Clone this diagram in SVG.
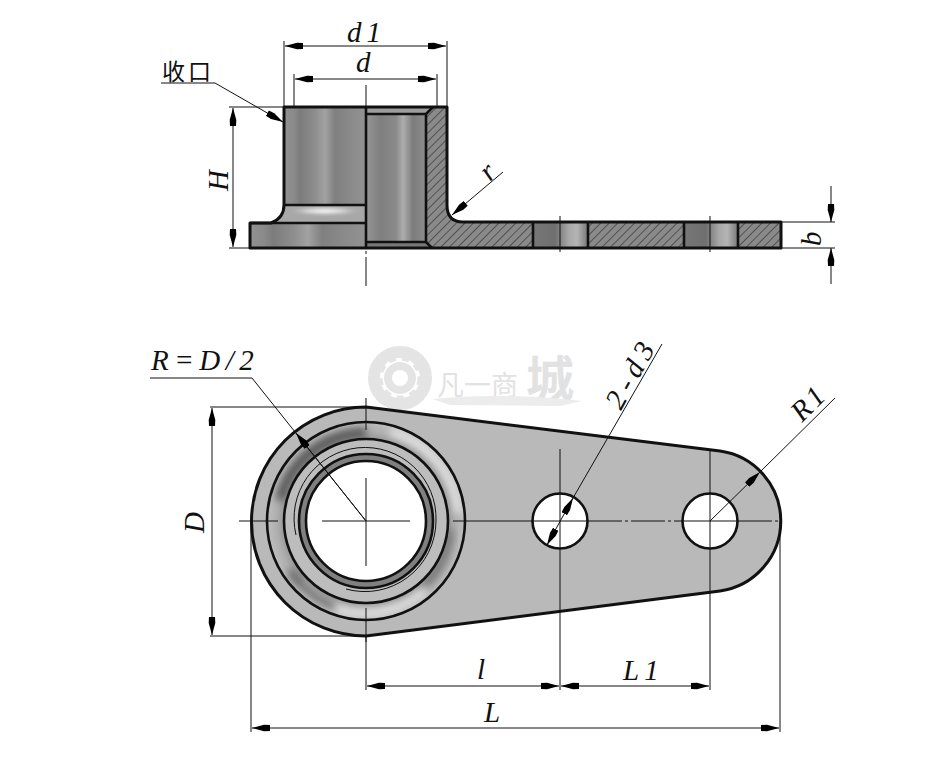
<svg xmlns="http://www.w3.org/2000/svg" width="950" height="767" viewBox="0 0 950 767">
<style>
.o{fill:none;stroke:#111;stroke-width:3;stroke-linejoin:round}
.m{fill:none;stroke:#111;stroke-width:2.6}
.h{fill:#fff;stroke:#111;stroke-width:2.6}
.t{fill:none;stroke:#111;stroke-width:1}
.c{fill:none;stroke:#111;stroke-width:1;stroke-dasharray:34 3 3 3}
.d{fill:none;stroke:#111;stroke-width:1}
.a{marker-end:url(#ah)}
.s{marker-start:url(#ah);marker-end:url(#ah)}
text{font-family:"Liberation Serif",serif;font-style:italic;font-size:29px;fill:#111;letter-spacing:5px}
.w{font-family:"Noto Sans CJK SC",sans-serif;font-style:normal;fill:#e2e2e2;letter-spacing:0}
</style>
<defs>
<marker id="ah" markerUnits="userSpaceOnUse" markerWidth="19" markerHeight="9" refX="18" refY="4.500" orient="auto-start-reverse"><path d="M0 1.500L6 1.200L18 4.500L6 7.800L0 7.500z" fill="#000"/></marker>
<linearGradient id="cyl" x1="0" x2="1" y1="0" y2="0"><stop offset="0" stop-color="#929292"/><stop offset=".12" stop-color="#8a8a8a"/><stop offset=".2" stop-color="#7c7c7c"/><stop offset=".38" stop-color="#8e8e8e"/><stop offset=".5" stop-color="#a2a2a2"/><stop offset=".62" stop-color="#808080"/><stop offset=".85" stop-color="#8c8c8c"/><stop offset="1" stop-color="#929292"/></linearGradient>
<linearGradient id="bore" x1="0" x2="1" y1="0" y2="0"><stop offset="0" stop-color="#949494"/><stop offset=".25" stop-color="#7f7f7f"/><stop offset=".5" stop-color="#8a8a8a"/><stop offset=".62" stop-color="#adadad"/><stop offset=".78" stop-color="#7c7c7c"/><stop offset="1" stop-color="#8d8d8d"/></linearGradient>
<linearGradient id="hole" x1="0" x2="1" y1="0" y2="0"><stop offset="0" stop-color="#777"/><stop offset=".4" stop-color="#6f6f6f"/><stop offset=".65" stop-color="#a8a8a8"/><stop offset=".8" stop-color="#b5b5b5"/><stop offset="1" stop-color="#777"/></linearGradient>
<radialGradient id="hl" cx=".5" cy=".5" r=".5"><stop offset="0" stop-color="#fff"/><stop offset=".5" stop-color="#ddd" stop-opacity=".8"/><stop offset="1" stop-color="#999" stop-opacity="0"/></radialGradient>
<radialGradient id="torus" gradientUnits="userSpaceOnUse" cx="366" cy="521" r="99"><stop offset=".82" stop-color="#959595"/><stop offset=".9" stop-color="#aeaeae"/><stop offset="1" stop-color="#bebebe"/></radialGradient>
<pattern id="hatch" width="6" height="6" patternUnits="userSpaceOnUse" patternTransform="rotate(-45)"><rect width="6" height="6" fill="#8a8a8a"/><line x1="0" y1="0" x2="6" y2="0" stroke="#222" stroke-width="1.100"/></pattern>
<filter id="b3" x="-30%" y="-30%" width="160%" height="160%"><feGaussianBlur stdDeviation="4"/></filter>
<filter id="b1" x="-30%" y="-30%" width="160%" height="160%"><feGaussianBlur stdDeviation="1.600"/></filter>
<clipPath id="ring"><path clip-rule="evenodd" d="M267 521a99 99 0 1 0 198 0a99 99 0 1 0-198 0zM284 521a82 82 0 1 1 164 0a82 82 0 1 1-164 0z"/></clipPath>
</defs>

<g id="watermark">
<circle cx="400" cy="378" r="26" fill="none" stroke="#e4e4e4" stroke-width="12"/>
<circle cx="400" cy="378" r="12" fill="none" stroke="#e4e4e4" stroke-width="8"/>
<circle cx="400" cy="378" r="19" fill="none" stroke="#e4e4e4" stroke-width="3" stroke-dasharray="7 6"/>
<text class="w" x="437" y="395" style="font-size:27px">凡一商</text>
<text class="w" x="526" y="396" style="font-size:48px;font-weight:700">城</text>
<path d="M432 399Q500 392 582 401L560 406L450 405z" fill="#ececec"/>
</g>

<g id="side-view">
<rect x="284" y="107" width="82" height="98" fill="url(#cyl)"/>
<path d="M284 205H366V223H271Q284 218 284 205z" fill="#a8a8a8"/>
<ellipse cx="325" cy="211" rx="40" ry="5" fill="url(#hl)" filter="url(#b1)"/>
<rect x="250" y="223" width="116" height="25" fill="url(#cyl)"/>
<rect x="366" y="107" width="60" height="141" fill="url(#bore)"/>
<path d="M366 107H433L426 114H366z" fill="#9d9d9d"/>
<path d="M366 242H426L432 248H366z" fill="#777"/>
<rect x="533" y="222" width="55" height="26" fill="url(#hole)"/>
<rect x="684" y="222" width="54" height="26" fill="url(#hole)"/>
<path id="section" d="M433 107H447V205Q447 222 463 222H533V248H588V222H684V248H738V222H781V248H433L426 242V114z" fill="url(#hatch)"/>
<path class="o" d="M284 205V107H447V205Q447 222 463 222H781V248H250V223H271Q284 218 284 205z"/>
<path class="m" d="M284 205H366M250 223H366M366 107V248M366 114H426M366 242H426M426 114V242M426 114L433 107M426 242L432 248M533 222V248M588 222V248M684 222V248M738 222V248"/>
</g>

<g id="plan-view">
<path d="M366 407L720 451A70.700 70.700 0 0 1 720 591L366 636A114.500 114.500 0 0 1 366 407z" fill="#b9b9b9"/>
<circle cx="366" cy="521" r="99" fill="url(#torus)"/>
<g clip-path="url(#ring)">
<path d="M390 432A92 92 0 0 1 458 513" fill="none" stroke="#fff" stroke-width="5" filter="url(#b3)"/>
<path d="M300 585A90 90 0 0 0 425 590" fill="none" stroke="#fff" stroke-width="5" filter="url(#b3)"/>
<path d="M366 433A88 88 0 0 0 280 500" fill="none" stroke="#4c4c4c" stroke-width="9" filter="url(#b3)"/>
<path d="M290 570A90 90 0 0 0 335 607" fill="none" stroke="#555" stroke-width="7" filter="url(#b3)"/>
<path d="M425 585A85 85 0 0 0 450 530" fill="none" stroke="#6e6e6e" stroke-width="7" filter="url(#b3)"/>
</g>
<circle cx="366" cy="521" r="82" fill="#bdbdbd"/>
<circle cx="366" cy="521" r="67" fill="#808080"/>
<circle cx="366" cy="521" r="60" fill="#fff"/>
<path class="o" d="M366 407L720 451A70.700 70.700 0 0 1 720 591L366 636A114.500 114.500 0 0 1 366 407z"/>
<circle class="m" cx="366" cy="521" r="99"/>
<circle class="m" cx="366" cy="521" r="82"/>
<path class="t" d="M296 535A71 71 0 1 1 436 521M436 521A71 71 0 0 1 346 589"/>
<circle class="m" cx="366" cy="521" r="67"/>
<circle class="m" cx="366" cy="521" r="60"/>
<circle class="h" cx="560" cy="521" r="27.500"/>
<circle class="h" cx="710" cy="521" r="27.500"/>
</g>

<g id="connectors">
<path class="c" d="M366 85V286"/>
<path class="d" d="M560 216V252M710 216V252"/>
<path class="d" d="M322 521H410M366 478V566"/>
<path class="d" d="M239 521H278M453 521H532M532 521H588M683 521H738"/>
<path class="c" d="M588 521H683M738 521H781"/>
<path class="d" d="M366 398V430M366 608V642M560 449V690M710 449V690"/>
<path class="d" d="M284 41V107M447 41V107M294 74V107M437 74V107"/>
<path class="d s" d="M285 46H446"/>
<path class="d s" d="M295 79H436"/>
<path class="d a" d="M161 83H215L283 122"/>
<path class="d" d="M284 107H229M250 248H229"/>
<path class="d s" d="M233 108V247"/>
<path class="d a" d="M503 172L452 215"/>
<path class="d" d="M781 222H835M781 248H835"/>
<path class="d a" d="M831 186V222"/>
<path class="d a" d="M831 284V248"/>
<path class="d" d="M210 407H366M210 636H366"/>
<path class="d s" d="M212 408V635"/>
<path class="d" d="M150 378H252L366 521"/>
<path class="d a" d="M366 521L296 433"/>
<path class="d" d="M662 344L573 498"/>
<path class="d s" d="M547 545L573 498"/>
<path class="d" d="M835 398L760 472"/>
<path class="d a" d="M710 521L760 472"/>
<path class="d" d="M366 636V690M251 521V732M780 521V732"/>
<path class="d s" d="M367 686H559"/>
<path class="d s" d="M561 686H709"/>
<path class="d s" d="M252 728H779"/>
</g>

<g id="labels">
<text x="347" y="42">d1</text>
<text x="356" y="72">d</text>
<text x="162" y="80" style="font-family:'Noto Sans CJK SC',sans-serif;font-style:normal;font-size:23px;letter-spacing:3px">收口</text>
<text transform="translate(228 191) rotate(-90)">H</text>
<text transform="translate(490 182) rotate(-45)">r</text>
<text transform="translate(821 246) rotate(-90)">b</text>
<text x="151" y="370" style="letter-spacing:5.500px">R=D/2</text>
<text transform="translate(204 533) rotate(-90)">D</text>
<text transform="translate(621 411) rotate(-61)" style="letter-spacing:6px">2-d3</text>
<text transform="translate(802 423) rotate(-45)" style="letter-spacing:3px">R1</text>
<text x="477" y="679">l</text>
<text x="623" y="680">L1</text>
<text x="484" y="722">L</text>
</g>
</svg>
